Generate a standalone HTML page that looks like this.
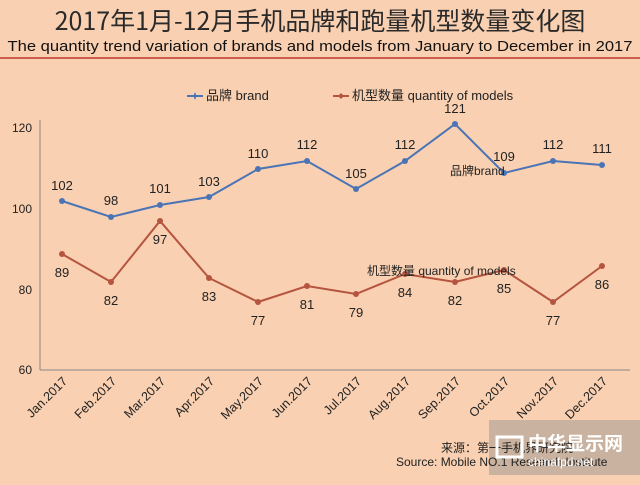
<!DOCTYPE html><html><head><meta charset="utf-8"><style>
body{margin:0;width:640px;height:480px;background:#f9d0b1;overflow:hidden;font-family:"Liberation Sans","Noto Sans CJK SC",sans-serif}
</style></head><body>
<svg width="640" height="480" xmlns="http://www.w3.org/2000/svg" font-family="Liberation Sans, Noto Sans CJK SC, sans-serif">
<rect width="640" height="480" fill="#f9d0b1"/>
<text x="320" y="30" font-size="25" text-anchor="middle" fill="#2a2a2a" font-family="Noto Sans CJK SC, sans-serif">2017年1月-12月手机品牌和跑量机型数量变化图</text>
<text x="320" y="51" font-size="15" text-anchor="middle" fill="#111" textLength="625" lengthAdjust="spacingAndGlyphs">The quantity trend variation of brands and models from January to December in 2017</text>
<line x1="0" y1="58" x2="640" y2="58" stroke="#c0392b" stroke-width="1.5"/>
<g font-size="13" fill="#222">
<line x1="187" y1="96" x2="203" y2="96" stroke="#4a74b5" stroke-width="2"/><path d="M195 92 L196.2 95 L199 96 L196.2 97 L195 100 L193.8 97 L191 96 L193.8 95Z" fill="#4a74b5"/>
<text x="206" y="100">品牌 brand</text>
<line x1="333" y1="96" x2="349" y2="96" stroke="#b5543f" stroke-width="2"/><path d="M341 93 L344 96 L341 99 L338 96Z" fill="#b5543f"/>
<text x="352" y="100">机型数量 quantity of models</text>
</g>
<line x1="40" y1="120" x2="40" y2="370" stroke="#888"/>
<g font-size="12" fill="#222" text-anchor="end">
<text x="32" y="374">60</text><text x="32" y="294">80</text><text x="32" y="213">100</text><text x="32" y="132">120</text>
</g>
<line x1="40" y1="370" x2="630" y2="370" stroke="#888"/>
<polyline fill="none" stroke="#4a74b5" stroke-width="2" points="62,201 111,217 160,205 209,197 258,169 307,161 356,189 405,161 455,124 504,173 553,161 602,165"/>
<polyline fill="none" stroke="#b5543f" stroke-width="2" points="62,254 111,282 160,221 209,278 258,302 307,286 356,294 405,274 455,282 504,270 553,302 602,266"/>
<g fill="#4a74b5"><circle cx="62" cy="201" r="3"/><circle cx="111" cy="217" r="3"/><circle cx="160" cy="205" r="3"/><circle cx="209" cy="197" r="3"/><circle cx="258" cy="169" r="3"/><circle cx="307" cy="161" r="3"/><circle cx="356" cy="189" r="3"/><circle cx="405" cy="161" r="3"/><circle cx="455" cy="124" r="3"/><circle cx="504" cy="173" r="3"/><circle cx="553" cy="161" r="3"/><circle cx="602" cy="165" r="3"/></g>
<g fill="#b5543f"><circle cx="62" cy="254" r="3"/><circle cx="111" cy="282" r="3"/><circle cx="160" cy="221" r="3"/><circle cx="209" cy="278" r="3"/><circle cx="258" cy="302" r="3"/><circle cx="307" cy="286" r="3"/><circle cx="356" cy="294" r="3"/><circle cx="405" cy="274" r="3"/><circle cx="455" cy="282" r="3"/><circle cx="504" cy="270" r="3"/><circle cx="553" cy="302" r="3"/><circle cx="602" cy="266" r="3"/></g>
<g font-size="13" fill="#222" text-anchor="middle">
<text x="62" y="190">102</text><text x="111" y="205">98</text><text x="160" y="193">101</text><text x="209" y="186">103</text><text x="258" y="158">110</text><text x="307" y="149">112</text><text x="356" y="178">105</text><text x="405" y="149">112</text><text x="455" y="113">121</text><text x="504" y="161">109</text><text x="553" y="149">112</text><text x="602" y="153">111</text>
<text x="62" y="277">89</text><text x="111" y="305">82</text><text x="160" y="244">97</text><text x="209" y="301">83</text><text x="258" y="325">77</text><text x="307" y="309">81</text><text x="356" y="317">79</text><text x="405" y="297">84</text><text x="455" y="305">82</text><text x="504" y="293">85</text><text x="553" y="325">77</text><text x="602" y="289">86</text>
</g>
<text x="450" y="175" font-size="12" fill="#222">品牌brand</text>
<text x="367" y="275" font-size="12" fill="#222">机型数量 quantity of models</text>
<g font-size="12.5" fill="#222" text-anchor="end">
<text transform="translate(68,382) rotate(-45)">Jan.2017</text>
<text transform="translate(117,382) rotate(-45)">Feb.2017</text>
<text transform="translate(166,382) rotate(-45)">Mar.2017</text>
<text transform="translate(215,382) rotate(-45)">Apr.2017</text>
<text transform="translate(264,382) rotate(-45)">May.2017</text>
<text transform="translate(313,382) rotate(-45)">Jun.2017</text>
<text transform="translate(362,382) rotate(-45)">Jul.2017</text>
<text transform="translate(411,382) rotate(-45)">Aug.2017</text>
<text transform="translate(461,382) rotate(-45)">Sep.2017</text>
<text transform="translate(510,382) rotate(-45)">Oct.2017</text>
<text transform="translate(559,382) rotate(-45)">Nov.2017</text>
<text transform="translate(608,382) rotate(-45)">Dec.2017</text>
</g>
<rect x="489" y="420" width="151" height="55" fill="#b8a89a" opacity="0.75"/>
<text x="441" y="452" font-size="12" fill="#222">来源：第一手机界研究院</text>
<text x="396" y="466" font-size="12" fill="#222">Source: Mobile NO.1 Research Institute</text>
<rect x="497" y="437" width="25" height="20" fill="none" stroke="#fff" stroke-width="3"/>
<text x="528" y="450" font-size="19" font-weight="bold" fill="#fff">中华显示网</text>
<text x="528" y="466" font-size="12" fill="#fff">chinafpd.net</text>
</svg>
</body></html>
